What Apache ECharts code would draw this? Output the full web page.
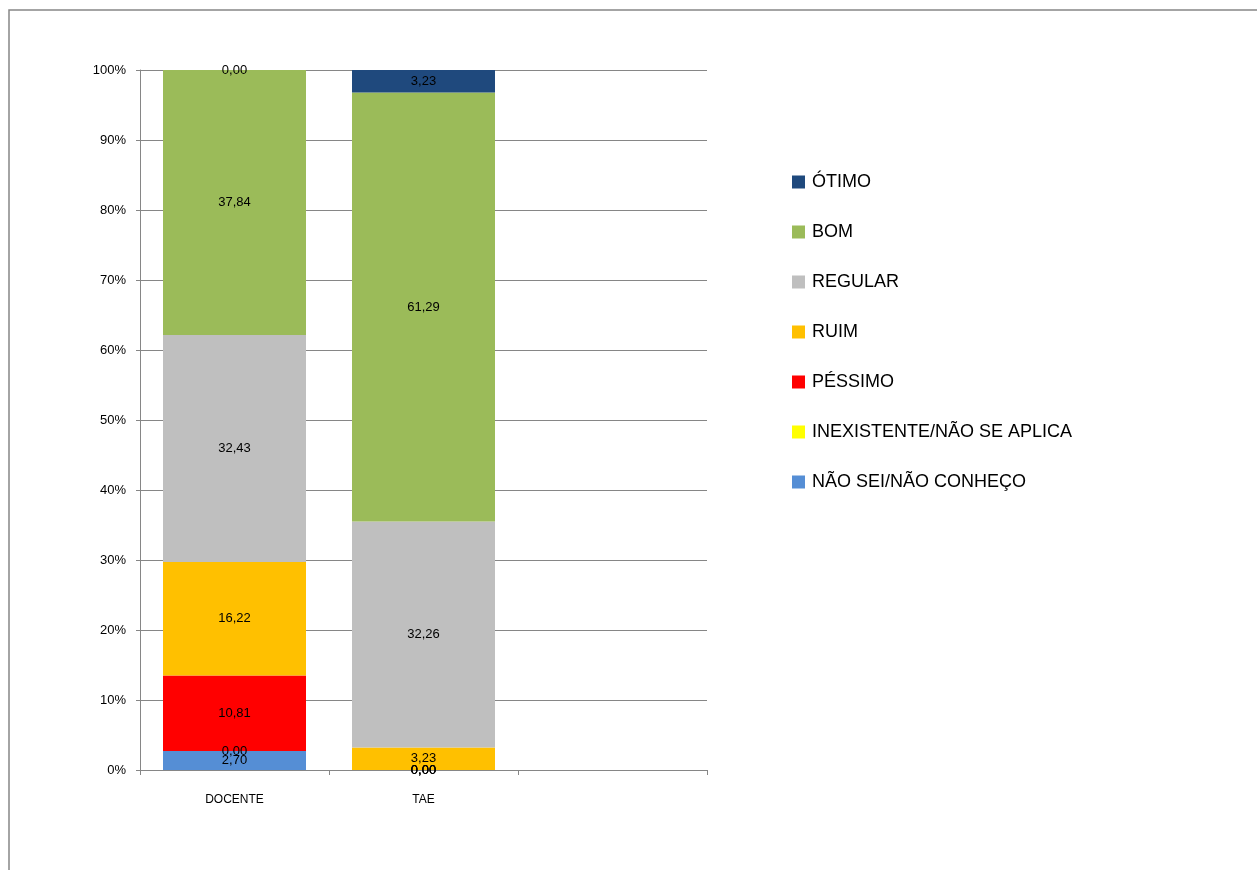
<!DOCTYPE html>
<html>
<head>
<meta charset="utf-8">
<script src="https://cdn.jsdelivr.net/npm/echarts@6/dist/echarts.min.js"></script>
<style>
html,body{margin:0;padding:0;background:#fff;}
#chart{width:1257px;height:870px;}
</style>
</head>
<body>
<div id="chart"></div>
<script>
const categories = ['DOCENTE', 'TAE', ''];
const naoSei = [2.70, 0.00, null];
const inexistente = [0.00, 0.00, null];
const pessimo = [10.81, 0.00, null];
const ruim = [16.22, 3.23, null];
const regular = [32.43, 32.26, null];
const bom = [37.84, 61.29, null];
const otimo = [0.00, 3.23, null];
const yTicks = [0, 10, 20, 30, 40, 50, 60, 70, 80, 90, 100];

const seriesDefs = [
  {name: 'NÃO SEI/NÃO CONHEÇO', data: naoSei, color: '#558ED5'},
  {name: 'INEXISTENTE/NÃO SE APLICA', data: inexistente, color: '#FFFF00'},
  {name: 'PÉSSIMO', data: pessimo, color: '#FF0000'},
  {name: 'RUIM', data: ruim, color: '#FFC000'},
  {name: 'REGULAR', data: regular, color: '#BFBFBF'},
  {name: 'BOM', data: bom, color: '#9BBB59'},
  {name: 'ÓTIMO', data: otimo, color: '#1F497D'}
];

const chart = echarts.init(document.getElementById('chart'));
const font = 'Liberation Sans, Arial, sans-serif';
chart.setOption({
  animation: false,
  backgroundColor: '#fff',
  graphic: [{
    type: 'polyline',
    shape: {points: [[9, 870], [9, 10], [1257, 10]]},
    style: {stroke: '#868686', lineWidth: 1.5, fill: null},
    silent: true
  }],
  legend: {
    orient: 'vertical',
    left: 787,
    top: 168,
    itemWidth: 13,
    itemHeight: 13,
    itemGap: 32,
    icon: 'rect',
    textStyle: {fontFamily: font, fontSize: 18, color: '#000', padding: [0, 0, 0, 2]},
    data: seriesDefs.slice().reverse().map(s => s.name)
  },
  grid: {left: 140, top: 70, width: 567, height: 700, containLabel: false},
  xAxis: {
    type: 'category',
    data: categories,
    axisLine: {lineStyle: {color: '#868686', width: 1}},
    axisTick: {show: true, length: 5, lineStyle: {color: '#868686'}},
    axisLabel: {fontFamily: font, fontSize: 12, color: '#000', margin: 24}
  },
  yAxis: {
    type: 'value',
    min: 0,
    max: 100,
    interval: 10,
    axisLine: {show: true, lineStyle: {color: '#868686', width: 1}},
    axisTick: {show: true, length: 4, lineStyle: {color: '#868686'}},
    splitLine: {lineStyle: {color: '#868686', width: 1}},
    axisLabel: {fontFamily: font, fontSize: 13, color: '#000', margin: 14,
      formatter: v => yTicks.includes(v) ? v + '%' : ''}
  },
  series: seriesDefs.map(s => ({
    name: s.name,
    type: 'bar',
    stack: 'total',
    barWidth: 143,
    data: s.data,
    itemStyle: {color: s.color},
    label: {
      show: true,
      position: 'inside',
      fontFamily: font,
      fontSize: 13,
      color: '#000',
      formatter: p => (p.value == null ? '' : p.value.toFixed(2).replace('.', ','))
    }
  }))
});
</script>
</body>
</html>
